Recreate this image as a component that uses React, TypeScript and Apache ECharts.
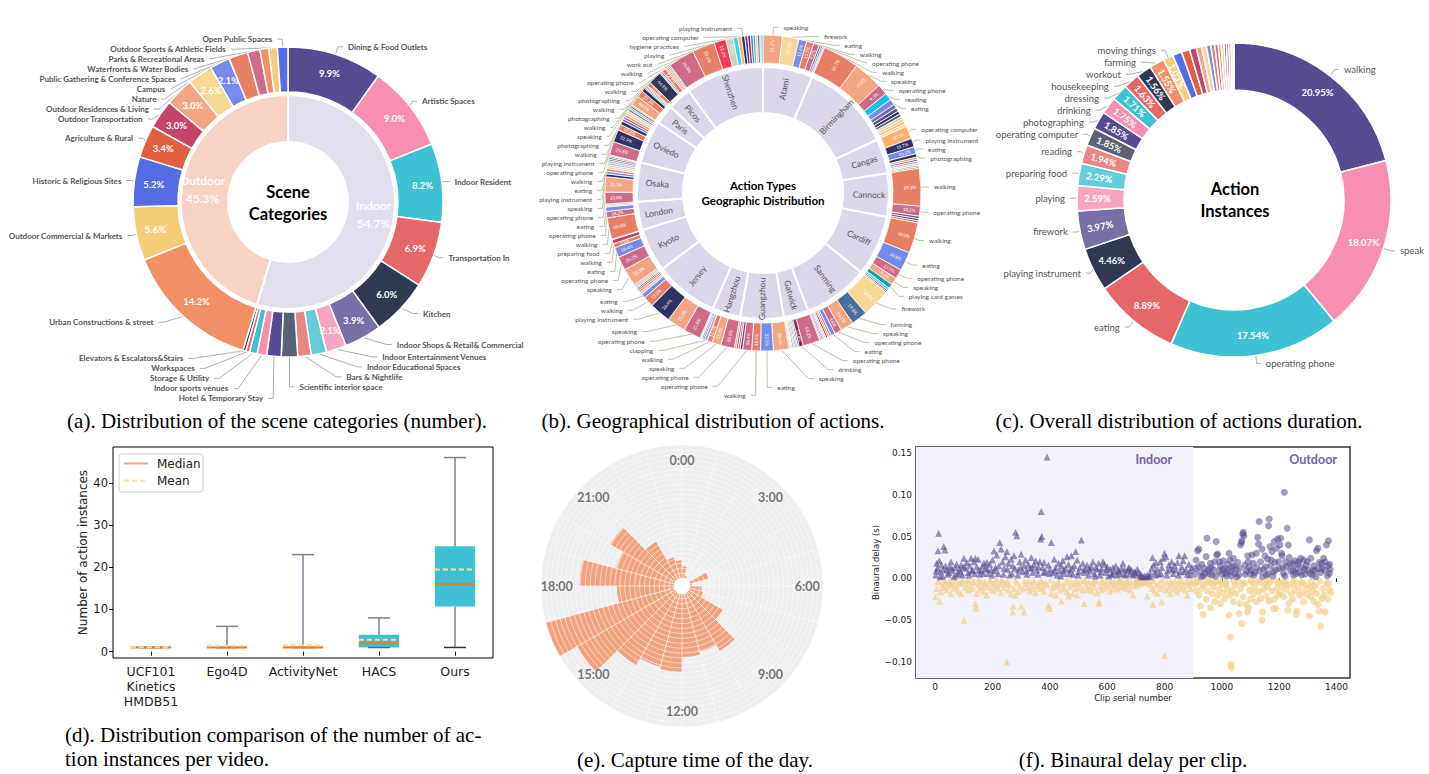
import React, { useEffect, useRef } from 'react';
import * as echarts from 'echarts';

// ---------- (a) scene categories ----------
const sceneGroups = ['Indoor', 'Outdoor'];
const sceneGroupShares = [54.7, 45.3];
const sceneCategories = [
  'Dining & Food Outlets', 'Artistic Spaces', 'Indoor Resident', 'Transportation In', 'Kitchen',
  'Indoor Shops & Retail& Commercial', 'Indoor Entertainment Venues', 'Indoor Educational Spaces',
  'Bars & Nightlife', 'Scientific interior space', 'Hotel & Temporary Stay', 'Indoor sports venues',
  'Storage & Utility', 'Workspaces', 'Elevators & Escalators&Stairs',
  'Urban Constructions & street', 'Outdoor Commercial & Markets', 'Historic & Religious Sites',
  'Agriculture & Rural', 'Outdoor Transportation', 'Outdoor Residences & Living', 'Nature', 'Campus',
  'Public Gathering & Conference Spaces', 'Waterfronts & Water Bodies', 'Parks & Recreational Areas',
  'Outdoor Sports & Athletic Fields', 'Open Public Spaces',
];
const sceneShares = [9.9, 9.0, 8.2, 6.9, 6.0, 3.9, 2.1, 1.6, 1.4, 1.7, 1.5, 1.0, 0.8, 0.4, 0.3,
  14.2, 5.6, 5.2, 3.4, 3.0, 3.0, 2.6, 2.1, 2.0, 1.3, 0.9, 0.9, 1.1];
const sceneColors = ['#574b90', '#f78fb3', '#3dc1d3', '#e66767', '#303952', '#786fa6', '#f8a5c2', '#63cdda',
  '#ea8685', '#596275', '#574b90', '#f78fb3', '#3dc1d3', '#e66767', '#303952',
  '#f19066', '#f5cd79', '#546de5', '#e15f41', '#c44569', '#f3a683', '#f7d794', '#778beb', '#e77f67',
  '#cf6a87', '#f19066', '#f5cd79', '#546de5'];
const sceneGroupColors = ['#e1dfee', '#f8d3c3'];

// ---------- (b) actions per city ----------
const cityNames = ['Atami', 'Birmingham', 'Cangas', 'Cannock', 'Cardiff', 'Sanming', 'Gatwick', 'Guangzhou',
  'Hangzhou', 'Jersey', 'Kyoto', 'London', 'Osaka', 'Oviedo', 'Paris', 'Picos', 'Shenzhen'];
const cityShares = [23, 42, 16, 20, 28, 30, 11.5, 20, 13, 29.5, 20, 13, 18, 20, 9, 11, 36];
const atamiActions = [['speaking', 31.2], ['firework', 26.1], ['eating', 12.8], ['walking', 11.5], ['operating phone', 9.2], ['driving', 3.2], ['writing', 2.5], ['dressing', 2.0], ['cleaning', 1.5]];
const birminghamActions = [['walking', 31.7], ['speaking', 25.8], ['operating phone', 9.3], ['reading', 6.5], ['eating', 5.2], ['dressing', 3.6], ['housekeeping', 3.2], ['photographing', 2.8], ['writing', 2.6], ['playing', 2.4], ['moving things', 2.3], ['operating computer', 2.2], ['firework', 2.4]];
const cangasActions = [['operating computer', 30.3], ['playing instrument', 19.7], ['eating', 16.2], ['photographing', 8.0], ['shopping', 4.8], ['driving', 4.6], ['sitting', 4.6], ['cooking', 4.4], ['exercising', 4.0], ['cleaning', 3.4]];
const cannockActions = [['walking', 69.2], ['operating phone', 18.2], ['writing', 4.6], ['housekeeping', 4.2], ['cleaning', 3.8]];
const cardiffActions = [['walking', 40.2], ['eating', 24.8], ['operating phone', 12.5], ['speaking', 9.6], ['playing card games', 6.0], ['exercising', 3.2], ['writing', 2.1], ['dressing', 1.6]];
const sanmingActions = [['firework', 34.9], ['farming', 19.8], ['speaking', 16.2], ['operating phone', 8.6], ['eating', 5.2], ['walking', 2.6], ['shopping', 2.2], ['playing instrument', 2.1], ['operating computer', 2.0], ['clapping', 1.9], ['preparing food', 1.8], ['driving', 1.5], ['reading', 1.2]];
const gatwickActions = [['operating phone', 54.2], ['drinking', 13.4], ['housekeeping', 4.8], ['exercising', 4.6], ['dressing', 4.4], ['shopping', 4.2], ['writing', 4.0], ['cooking', 3.6], ['clapping', 2.8], ['sitting', 4.0]];
const guangzhouActions = [['speaking', 28.6], ['eating', 23.3], ['walking', 16.4], ['operating phone', 16.4], ['housekeeping', 4.6], ['cleaning', 3.7], ['writing', 3.5], ['sitting', 3.5]];
const hangzhouActions = [['operating phone', 38.5], ['speaking', 25.5], ['walking', 14.5], ['clapping', 8.0], ['dressing', 4.5], ['driving', 4.0], ['cooking', 3.0], ['writing', 2.0]];
const jerseyActions = [['operating phone', 21.8], ['speaking', 23.3], ['playing instrument', 26.4], ['walking', 13.2], ['eating', 5.5], ['cooking', 3.2], ['sitting', 2.6], ['cleaning', 2.2], ['writing', 1.8]];
const kyotoActions = [['cooking', 3.0], ['sitting', 2.6], ['writing', 2.0], ['speaking', 32.3], ['operating phone', 25.3], ['eating', 18.4], ['walking', 7.8], ['preparing food', 7.6], ['reading', 1.0]];
const londonActions = [['walking', 60.8], ['operating phone', 18.2], ['eating', 12.4], ['cooking', 4.6], ['sitting', 4.0]];
const osakaActions = [['operating phone', 23.8], ['speaking', 31.3], ['playing instrument', 6.0], ['eating', 5.5], ['walking', 5.2], ['moving things', 4.2], ['cooking', 4.0], ['exercising', 4.0], ['shopping', 4.0], ['driving', 3.5], ['writing', 3.5], ['dressing', 3.0], ['sitting', 2.0]];
const oviedoActions = [['operating phone', 24.8], ['playing instrument', 22.9], ['walking', 10.8], ['photographing', 7.0], ['driving', 4.6], ['cleaning', 4.4], ['sitting', 4.2], ['cooking', 4.2], ['moving things', 4.0], ['dressing', 3.8], ['exercising', 3.5], ['writing', 3.3], ['shopping', 2.5]];
const parisActions = [['speaking', 40.7], ['walking', 27.3], ['photographing', 15.2], ['writing', 4.5], ['dressing', 4.3], ['housekeeping', 4.2], ['cleaning', 3.8]];
const picosActions = [['walking', 12.5], ['photographing', 44.9], ['exercising', 4.6], ['housekeeping', 4.4], ['walking', 14.2], ['shopping', 4.6], ['cleaning', 4.6], ['sitting', 4.4], ['writing', 4.0], ['dressing', 1.8]];
const shenzhenActions = [['operating phone', 26.8], ['walking', 23.1], ['work out', 12.3], ['playing', 7.5], ['hygiene practices', 4.8], ['operating computer', 3.6], ['playing instrument', 3.4], ['housekeeping', 3.0], ['drinking', 2.8], ['dressing', 2.6], ['reading', 2.4], ['cooking', 2.3], ['writing', 2.2], ['sitting', 1.2], ['exercising', 2.0]];
const cityActions = [atamiActions, birminghamActions, cangasActions, cannockActions, cardiffActions, sanmingActions,
  gatwickActions, guangzhouActions, hangzhouActions, jerseyActions, kyotoActions, londonActions, osakaActions,
  oviedoActions, parisActions, picosActions, shenzhenActions];
const unlabeledActions = ['cooking', 'sitting', 'writing', 'cleaning', 'exercising', 'shopping', 'driving', 'dressing', 'housekeeping', 'moving things'];
const actionColors = {
  walking: '#e77f67', speaking: '#f3a683', 'operating phone': '#cf6a87', eating: '#778beb', firework: '#f7d794',
  'playing instrument': '#2e3266', photographing: '#303952', farming: '#4b6e9c', drinking: '#8e2c4e',
  reading: '#18c1e8', 'operating computer': '#f8b26a', 'playing card games': '#13a3ad', 'work out': '#f53b57',
  playing: '#c8d3bd', 'hygiene practices': '#48d1e6', clapping: '#c89ee6', 'preparing food': '#c44569',
  dressing: '#786fa6', housekeeping: '#574b90', 'moving things': '#f5cd79', cleaning: '#e15f41',
  writing: '#596275', shopping: '#f19066', driving: '#546de5', exercising: '#63cdda', sitting: '#ea8685',
  cooking: '#d1ccc0',
};

// ---------- (c) action instances ----------
const instanceNames = ['walking', 'speak', 'operating phone', 'eating', 'playing instrument', 'firework', 'playing',
  'preparing food', 'reading', 'operating computer', 'photographing', 'drinking', 'dressing', 'housekeeping',
  'workout', 'farming', 'moving things', 'cleaning', 'writing', 'shopping', 'driving', 'exercising', 'sitting',
  'cooking', 'clapping', 'hygiene practices', 'playing card games', 'painting', 'singing', 'dancing', 'knitting', 'fishing'];
const instanceShares = [20.95, 18.07, 17.54, 8.89, 4.46, 3.97, 2.59, 2.29, 1.94, 1.85, 1.85, 1.75, 1.71, 1.63,
  1.56, 1.55, 1.03, 0.95, 0.85, 0.7, 0.55, 0.5, 0.45, 0.4, 0.35, 0.3, 0.3, 0.25, 0.25, 0.22, 0.2, 0.1];
const instanceLabeledCount = 17;
const instanceColors = ['#574b90', '#f78fb3', '#3dc1d3', '#e66767', '#303952', '#786fa6', '#f8a5c2', '#63cdda',
  '#ea8685', '#596275', '#574b90', '#f78fb3', '#3dc1d3', '#e66767', '#303952', '#f19066', '#f5cd79',
  '#546de5', '#e15f41', '#c44569', '#f3a683', '#f7d794', '#778beb', '#e77f67', '#cf6a87', '#f19066',
  '#f5cd79', '#546de5', '#e15f41', '#c44569', '#f3a683', '#f7d794'];

// ---------- (d) boxplot ----------
const boxCategories = ['UCF101\nKinetics\nHMDB51', 'Ego4D', 'ActivityNet', 'HACS', 'Ours'];
const boxMin = [1, 1, 1, 1, 1];
const boxQ1 = [1, 1, 1, 1, 10.7];
const boxMedian = [1, 1, 1, 2, 16];
const boxQ3 = [1, 1, 1, 4, 25];
const boxMax = [1, 6, 23, 8, 46];
const boxMean = [1.05, 1.4, 1.5, 2.8, 19.5];
const boxYTicks = [0, 10, 20, 30, 40];
const boxLegend = ['Median', 'Mean'];

// ---------- (e) capture time ----------
const hourCategories = ['0:00', '1:00', '2:00', '3:00', '4:00', '5:00', '6:00', '7:00', '8:00', '9:00', '10:00', '11:00',
  '12:00', '13:00', '14:00', '15:00', '16:00', '17:00', '18:00', '19:00', '20:00', '21:00', '22:00', '23:00'];
const hourCounts = [12, 3, 0, 0, 20, 2, 12, 14, 40, 68, 61, 64, 79, 77, 85, 115, 135, 58, 96, 61, 76, 44, 22, 18];
const hourTickValues = [0, 3, 6, 9, 12, 15, 18, 21];
const hourTickLabels = ['0:00', '3:00', '6:00', '9:00', '12:00', '15:00', '18:00', '21:00'];

// ---------- (f) binaural delay ----------
const delayXTicks = [0, 200, 400, 600, 800, 1000, 1200, 1400];
const delayYTicks = [-0.1, -0.05, 0, 0.05, 0.1, 0.15];
const indoorEnd = 900;
const indoorAbove = [[2,0.004],[5,0.018],[8,0.012],[10,0.033],[12,0.054],[14,0.021],[18,0.008],[22,0.016],[26,0.003],[30,0.038],[34,0.034],[36,0.015],[40,0.01],[45,0.005],[50,0.014],[55,0.02],[60,0.009],[65,0.002],[70,0.013],[75,0.017],[80,0.006],[85,0.011],[90,0.016],[95,0.004],[100,0.024],[105,0.012],[110,0.019],[115,0.007],[120,0.015],[125,0.024],[130,0.01],[135,0.02],[140,0.024],[145,0.014],[150,0.023],[155,0.005],[160,0.009],[165,0.015],[170,0.018],[175,0.012],[180,0.019],[185,0.006],[190,0.017],[195,0.01],[200,0.022],[205,0.033],[210,0.013],[215,0.028],[220,0.006],[225,0.043],[230,0.035],[235,0.02],[240,0.012],[245,0.026],[250,0.032],[255,0.018],[260,0.004],[265,0.023],[270,0.015],[275,0.027],[280,0.055],[285,0.051],[290,0.01],[295,0.02],[300,0.029],[305,0.008],[310,0.015],[315,0.022],[320,0.005],[325,0.017],[330,0.012],[335,0.025],[340,0.007],[345,0.016],[350,0.021],[355,0.01],[360,0.014],[365,0.02],[368,0.047],[370,0.08],[372,0.05],[375,0.013],[380,0.019],[385,0.008],[390,0.145],[395,0.016],[400,0.011],[405,0.043],[410,0.007],[415,0.023],[420,0.013],[425,0.004],[430,0.018],[435,0.009],[440,0.015],[445,0.021],[450,0.006],[455,0.012],[460,0.026],[465,0.017],[470,0.01],[475,0.027],[480,0.005],[485,0.015],[490,0.032],[495,0.022],[500,0.008],[505,0.013],[510,0.046],[515,0.018],[520,0.007],[525,0.011],[530,0.016],[535,0.004],[540,0.009],[545,0.014],[550,0.02],[555,0.006],[560,0.013],[565,0.011],[570,0.018],[575,0.004],[580,0.012],[585,0.02],[590,0.017],[595,0.007],[600,0.014],[605,0.003],[610,0.011],[615,0.005],[620,0.013],[625,0.008],[630,0.015],[635,0.004],[640,0.01],[645,0.006],[650,0.012],[655,0.018],[660,0.011],[665,0.004],[670,0.009],[675,0.013],[680,0.006],[685,0.01],[690,0.004],[695,0.008],[700,0.005],[705,0.011],[710,0.007],[715,0.003],[720,0.002],[725,0.002],[730,0.003],[735,0.002],[740,0.004],[745,0.003],[750,0.006],[755,0.012],[758,0.025],[762,0.016],[766,0.008],[770,0.019],[775,0.011],[780,0.005],[785,0.02],[790,0.013],[795,0.024],[800,0.03],[805,0.026],[810,0.009],[815,0.016],[820,0.012],[825,0.02],[830,0.006],[835,0.015],[840,0.01],[845,0.019],[850,0.027],[855,0.008],[860,0.014],[865,0.021],[870,0.027],[875,0.011],[880,0.005],[885,0.017],[890,0.009],[895,0.013],
  [3,0.009],[17,0.002],[28,0.011],[47,0.007],[58,0.012],[73,0.004],[88,0.008],[98,0.014],[118,0.004],[128,0.009],[138,0.006],[152,0.01],[168,0.006],[182,0.011],[198,0.004],[208,0.009],[222,0.015],[238,0.005],[252,0.011],[268,0.006],[278,0.012],[288,0.004],[298,0.013],[318,0.009],[338,0.013],[358,0.005],[378,0.007],[398,0.006],[418,0.009],[438,0.003],[448,0.01],[468,0.006],[478,0.012],[498,0.004],[518,0.01],[538,0.012],[558,0.003],[578,0.008],[598,0.011],[618,0.005],[638,0.009],[658,0.005],[678,0.012],[698,0.007],[718,0.005],[748,0.002],[768,0.004],[788,0.006],[808,0.004],[828,0.011],[848,0.004],[868,0.008],[888,0.004]];
const indoorBelow = [[2,-0.022],[6,-0.012],[10,-0.003],[15,-0.027],[20,-0.016],[25,-0.008],[30,-0.011],[35,-0.005],[40,-0.014],[45,-0.009],[50,-0.003],[55,-0.018],[60,-0.007],[65,-0.012],[70,-0.004],[75,-0.01],[80,-0.015],[85,-0.006],[90,-0.018],[95,-0.002],[100,-0.05],[105,-0.011],[110,-0.007],[115,-0.014],[120,-0.003],[125,-0.009],[130,-0.012],[135,-0.005],[140,-0.03],[142,-0.035],[145,-0.018],[150,-0.008],[155,-0.013],[160,-0.004],[165,-0.011],[170,-0.016],[175,-0.007],[180,-0.02],[185,-0.01],[190,-0.003],[195,-0.013],[200,-0.006],[205,-0.015],[210,-0.009],[215,-0.002],[220,-0.012],[225,-0.007],[230,-0.017],[235,-0.004],[240,-0.011],[245,-0.006],[250,-0.1],[255,-0.014],[260,-0.008],[265,-0.019],[270,-0.04],[272,-0.033],[275,-0.012],[280,-0.02],[285,-0.005],[290,-0.016],[295,-0.009],[300,-0.033],[305,-0.013],[310,-0.04],[315,-0.006],[320,-0.011],[325,-0.003],[330,-0.015],[335,-0.008],[340,-0.012],[345,-0.004],[350,-0.017],[355,-0.009],[360,-0.006],[365,-0.012],[370,-0.003],[375,-0.01],[380,-0.015],[385,-0.005],[390,-0.008],[395,-0.033],[400,-0.036],[405,-0.018],[410,-0.011],[415,-0.006],[420,-0.02],[425,-0.009],[430,-0.004],[435,-0.014],[440,-0.027],[445,-0.008],[450,-0.012],[455,-0.005],[460,-0.016],[465,-0.021],[470,-0.01],[475,-0.004],[480,-0.018],[485,-0.007],[490,-0.012],[495,-0.02],[500,-0.006],[505,-0.011],[510,-0.003],[515,-0.014],[520,-0.03],[525,-0.008],[530,-0.013],[535,-0.004],[540,-0.01],[545,-0.015],[550,-0.006],[555,-0.011],[560,-0.003],[565,-0.017],[570,-0.03],[572,-0.028],[575,-0.009],[580,-0.014],[585,-0.005],[590,-0.012],[595,-0.007],[600,-0.003],[605,-0.01],[610,-0.015],[615,-0.006],[620,-0.012],[625,-0.004],[630,-0.008],[635,-0.013],[640,-0.005],[645,-0.011],[650,-0.003],[655,-0.009],[660,-0.006],[665,-0.012],[670,-0.004],[675,-0.008],[680,-0.014],[685,-0.005],[690,-0.02],[695,-0.009],[700,-0.004],[705,-0.007],[710,-0.003],[715,-0.006],[720,-0.002],[725,-0.004],[730,-0.003],[735,-0.005],[740,-0.021],[745,-0.004],[750,-0.007],[755,-0.012],[760,-0.031],[765,-0.015],[770,-0.008],[775,-0.018],[780,-0.006],[785,-0.012],[790,-0.028],[795,-0.009],[800,-0.092],[805,-0.014],[810,-0.005],[815,-0.011],[820,-0.018],[825,-0.007],[830,-0.013],[835,-0.004],[840,-0.01],[845,-0.016],[850,-0.006],[855,-0.012],[860,-0.003],[865,-0.009],[870,-0.014],[875,-0.005],[880,-0.02],[885,-0.008],[890,-0.012],[895,-0.004],
  [12,-0.004],[32,-0.002],[52,-0.006],[72,-0.002],[92,-0.005],[112,-0.002],[132,-0.004],[152,-0.002],[172,-0.005],[192,-0.002],[212,-0.004],[232,-0.002],[252,-0.005],[282,-0.002],[312,-0.003],[342,-0.002],[372,-0.004],[402,-0.002],[432,-0.005],[462,-0.002],[492,-0.003],[522,-0.002],[552,-0.004],[582,-0.002],[612,-0.003],[642,-0.002],[672,-0.003],[702,-0.002],[732,-0.001],[762,-0.003],[792,-0.002],[822,-0.004],[852,-0.002],[882,-0.003]];
const outdoorAbove = [[905,0.005],[910,0.022],[915,0.033],[918,0.014],[920,0.035],[925,0.008],[930,0.017],[935,0.003],[940,0.012],[945,0.026],[948,0.048],[952,0.01],[956,0.006],[960,0.018],[965,0.004],[970,0.011],[975,0.02],[980,0.044],[982,0.028],[985,0.029],[990,0.009],[995,0.015],[1000,0.005],[1005,0.021],[1010,0.012],[1015,0.003],[1020,0.017],[1025,0.03],[1028,0.022],[1030,0.008],[1035,0.014],[1040,0.024],[1045,0.006],[1050,0.011],[1055,0.019],[1060,0.004],[1065,0.04],[1068,0.043],[1070,0.045],[1073,0.053],[1075,0.055],[1077,0.051],[1080,0.016],[1085,0.009],[1090,0.027],[1095,0.013],[1100,0.005],[1105,0.028],[1110,0.018],[1115,0.007],[1120,0.03],[1125,0.049],[1128,0.041],[1130,0.068],[1135,0.02],[1140,0.035],[1145,0.011],[1150,0.027],[1155,0.004],[1160,0.023],[1163,0.063],[1165,0.071],[1168,0.038],[1170,0.015],[1175,0.032],[1180,0.008],[1183,0.044],[1185,0.019],[1190,0.036],[1195,0.047],[1200,0.012],[1203,0.04],[1205,0.048],[1208,0.03],[1210,0.027],[1215,0.006],[1218,0.103],[1222,0.02],[1225,0.014],[1228,0.06],[1232,0.04],[1235,0.025],[1240,0.009],[1245,0.018],[1250,0.004],[1255,0.021],[1260,0.012],[1265,0.017],[1270,0.007],[1275,0.024],[1280,0.013],[1285,0.022],[1290,0.005],[1295,0.016],[1300,0.01],[1305,0.046],[1310,0.024],[1315,0.004],[1320,0.015],[1325,0.009],[1330,0.033],[1335,0.036],[1340,0.019],[1345,0.007],[1350,0.012],[1355,0.024],[1360,0.02],[1365,0.04],[1370,0.015],[1372,0.045],[1375,0.006],[1378,0.011],
  [908,0.012],[928,0.002],[942,0.006],[962,0.013],[978,0.003],[992,0.02],[1002,0.011],[1012,0.006],[1022,0.01],[1032,0.003],[1042,0.015],[1052,0.002],[1062,0.012],[1082,0.005],[1092,0.02],[1102,0.01],[1112,0.004],[1122,0.013],[1132,0.009],[1142,0.002],[1152,0.014],[1162,0.006],[1172,0.022],[1178,0.003],[1188,0.01],[1198,0.02],[1212,0.013],[1220,0.003],[1238,0.017],[1248,0.01],[1258,0.006],[1268,0.02],[1278,0.004],[1288,0.011],[1298,0.02],[1308,0.006],[1318,0.01],[1328,0.002],[1338,0.012],[1348,0.018],[1358,0.01],[1368,0.003],[1376,0.017]];
const outdoorBelow = [[905,-0.007],[910,-0.015],[915,-0.004],[920,-0.02],[925,-0.033],[930,-0.012],[935,-0.043],[940,-0.008],[945,-0.025],[950,-0.015],[955,-0.005],[960,-0.035],[965,-0.018],[970,-0.01],[975,-0.028],[980,-0.004],[985,-0.02],[990,-0.013],[995,-0.03],[1000,-0.007],[1005,-0.017],[1010,-0.024],[1015,-0.005],[1020,-0.012],[1025,-0.044],[1028,-0.02],[1030,-0.07],[1032,-0.103],[1033,-0.107],[1036,-0.015],[1040,-0.028],[1045,-0.008],[1050,-0.018],[1055,-0.004],[1060,-0.042],[1063,-0.03],[1066,-0.012],[1070,-0.054],[1075,-0.022],[1080,-0.006],[1085,-0.031],[1090,-0.04],[1093,-0.035],[1096,-0.014],[1100,-0.025],[1105,-0.005],[1110,-0.019],[1115,-0.011],[1120,-0.028],[1125,-0.003],[1130,-0.016],[1135,-0.024],[1140,-0.05],[1142,-0.04],[1145,-0.013],[1150,-0.006],[1155,-0.021],[1160,-0.01],[1165,-0.027],[1170,-0.004],[1175,-0.015],[1180,-0.036],[1183,-0.025],[1188,-0.036],[1192,-0.012],[1196,-0.02],[1200,-0.005],[1205,-0.017],[1210,-0.009],[1215,-0.022],[1220,-0.003],[1225,-0.013],[1230,-0.038],[1233,-0.03],[1238,-0.008],[1242,-0.018],[1246,-0.025],[1250,-0.006],[1255,-0.014],[1260,-0.043],[1262,-0.039],[1266,-0.01],[1270,-0.02],[1275,-0.005],[1280,-0.016],[1285,-0.028],[1290,-0.008],[1295,-0.019],[1300,-0.012],[1305,-0.045],[1308,-0.022],[1312,-0.004],[1316,-0.015],[1320,-0.027],[1325,-0.009],[1330,-0.018],[1335,-0.031],[1340,-0.039],[1345,-0.057],[1348,-0.024],[1352,-0.012],[1356,-0.02],[1360,-0.04],[1365,-0.006],[1370,-0.025],[1375,-0.014],[1380,-0.017],
  [912,-0.003],[932,-0.006],[952,-0.002],[972,-0.005],[992,-0.003],[1012,-0.007],[1042,-0.003],[1072,-0.006],[1102,-0.002],[1132,-0.005],[1162,-0.002],[1192,-0.004],[1222,-0.007],[1252,-0.002],[1282,-0.005],[1312,-0.009],[1342,-0.003],[1372,-0.006]];

// ---------- titles & captions ----------
const pieTitles = ['Scene\nCategories', 'Action Types\nGeographic Distribution', 'Action\nInstances'];
const captions = [
  '(a). Distribution of the scene categories (number).',
  '(b). Geographical distribution of actions.',
  '(c). Overall distribution of actions duration.',
  '(d). Distribution comparison of the number of ac-',
  'tion instances per video.',
  '(e). Capture time of the day.',
  '(f). Binaural delay per clip.',
];
const regionNames = ['Indoor', 'Outdoor'];

const SANS = 'Lato';
const MPL = 'DejaVu Sans';
const SERIF = 'Liberation Serif';

function buildOption() {
  const ring: any[] = [];
  cityActions.forEach((list: any[], ci) => {
    list.forEach(([name, pct]) => ring.push({ name, pct, value: (cityShares[ci] * pct) / 100 }));
  });

  const boxData = boxCategories.map((_, i) => [i, boxMin[i], boxQ1[i], boxMedian[i], boxQ3[i], boxMax[i], boxMean[i]]);

  const fmtDelay = (v: number) => {
    const s = Math.abs(v).toFixed(2);
    return v < -1e-9 ? '\u2212' + s : s;
  };

  const cA = [288, 202];
  const cB = [763, 193];
  const cC = [1234, 200];
  const cE = [682, 586];

  const caption = (text: string, x: number, y: number, align: string) => ({
    type: 'text', x, y, silent: true,
    style: { text, align, verticalAlign: 'middle', fontFamily: SERIF, fontSize: 21, fill: '#000' },
  });

  return {
    animation: false,
    backgroundColor: '#ffffff',
    textStyle: { fontFamily: SANS },
    grid: [
      { left: 113, top: 447, width: 380, height: 211, show: true, borderColor: '#000', borderWidth: 1, backgroundColor: 'rgba(0,0,0,0)' },
      { left: 916, top: 447, width: 434, height: 231, show: true, borderColor: '#333', borderWidth: 1.5, backgroundColor: 'rgba(0,0,0,0)' },
    ],
    xAxis: [
      {
        gridIndex: 0, type: 'category', data: boxCategories,
        axisLine: { show: false },
        axisTick: { show: true, alignWithLabel: true, length: 4, lineStyle: { color: '#000' } },
        axisLabel: { fontFamily: MPL, fontSize: 12.5, color: '#222', lineHeight: 15, margin: 6, interval: 0 },
        splitLine: { show: false },
      },
      {
        gridIndex: 1, type: 'value', min: -67, max: 1447,
        axisLine: { show: false },
        axisTick: { show: true, customValues: delayXTicks, length: 3.5, lineStyle: { color: '#000' } },
        axisLabel: { customValues: delayXTicks, formatter: (v: number) => `${v}`, fontFamily: MPL, fontSize: 9, color: '#222', margin: 4 },
        splitLine: { show: false },
        name: 'Clip serial number', nameLocation: 'middle', nameGap: 15,
        nameTextStyle: { fontFamily: MPL, fontSize: 8.5, color: '#222' },
      },
    ],
    yAxis: [
      {
        gridIndex: 0, type: 'value', min: -1.5, max: 48.5,
        axisLine: { show: false },
        axisTick: { show: true, customValues: boxYTicks, length: 4, lineStyle: { color: '#000' } },
        axisLabel: { customValues: boxYTicks, fontFamily: MPL, fontSize: 11.5, color: '#222', margin: 5 },
        splitLine: { show: false },
        name: 'Number of action instances', nameLocation: 'middle', nameGap: 24,
        nameTextStyle: { fontFamily: MPL, fontSize: 12, color: '#222' },
      },
      {
        gridIndex: 1, type: 'value', min: -0.119, max: 0.157,
        axisLine: { show: false },
        axisTick: { show: true, customValues: delayYTicks, length: 3.5, lineStyle: { color: '#000' } },
        axisLabel: { customValues: delayYTicks, formatter: fmtDelay, fontFamily: MPL, fontSize: 9, color: '#222', margin: 4 },
        splitLine: { show: false },
        name: 'Binaural delay (s)', nameLocation: 'middle', nameGap: 34,
        nameTextStyle: { fontFamily: MPL, fontSize: 8.5, color: '#222' },
      },
    ],
    polar: [
      { center: cE, radius: [8, 141] },
      { center: cE, radius: [8, 141] },
    ],
    angleAxis: [
      {
        polarIndex: 0, type: 'category', data: hourCategories, startAngle: 90, clockwise: true, boundaryGap: true,
        axisLine: { show: false }, axisTick: { show: false }, axisLabel: { show: false },
        splitLine: { show: false }, splitArea: { show: true, areaStyle: { color: ['#efefef'] } }, z: 0,
      },
      {
        polarIndex: 1, type: 'value', min: 0, max: 24, interval: 1, startAngle: 90, clockwise: true,
        axisLine: { show: false }, axisTick: { show: false }, axisLabel: { show: false },
        splitLine: { show: true, lineStyle: { color: 'rgba(255,255,255,0.75)', width: 0.8 } }, z: 5,
      },
    ],
    radiusAxis: [
      { polarIndex: 0, type: 'value', min: 0, max: 135, axisLine: { show: false }, axisTick: { show: false }, axisLabel: { show: false }, splitLine: { show: false } },
      {
        polarIndex: 1, type: 'value', min: 0, max: 135, interval: 5,
        axisLine: { show: false }, axisTick: { show: false }, axisLabel: { show: false },
        splitLine: { show: true, lineStyle: { color: 'rgba(255,255,255,0.8)', width: 0.7 } }, z: 5,
      },
    ],
    series: [
      // ----- (a) -----
      {
        type: 'pie', center: cA, radius: [60, 107], silent: true, clockwise: true, startAngle: 90,
        data: sceneGroups.map((n, i) => ({ name: n, value: sceneGroupShares[i], itemStyle: { color: sceneGroupColors[i] } })),
        itemStyle: { borderColor: '#fff', borderWidth: 2 },
        label: { show: true, position: 'inside', formatter: (p: any) => `${p.name}\n${p.value}%`, color: '#fff', fontFamily: SANS, fontSize: 12, fontWeight: 600, lineHeight: 18 },
        labelLine: { show: false },
      },
      {
        type: 'pie', center: cA, radius: [110, 155], silent: true, startAngle: 90,
        data: sceneCategories.map((n, i) => ({ name: n, value: sceneShares[i], itemStyle: { color: sceneColors[i] }, label: { show: sceneShares[i] >= 2.1 } })),
        itemStyle: { borderColor: '#fff', borderWidth: 1.5 },
        label: { position: 'inside', formatter: (p: any) => `${p.value.toFixed(1)}%`, color: '#fff', fontFamily: SANS, fontSize: 9.5, fontWeight: 'bold' },
        labelLine: { show: false },
      },
      {
        type: 'pie', center: cA, radius: [110, 155], silent: true, startAngle: 90,
        data: sceneCategories.map((n, i) => ({ name: n, value: sceneShares[i] })),
        itemStyle: { color: 'rgba(0,0,0,0)', borderWidth: 0 },
        label: { show: true, position: 'outside', formatter: '{b}', overflow: 'none', color: '#555', fontFamily: SANS, fontSize: 8, fontWeight: 'bold' },
        labelLine: { show: true, length: 8, length2: 5, lineStyle: { color: '#999', width: 0.8 } },
      },
      // ----- (b) -----
      {
        type: 'pie', center: cB, radius: [80, 126], silent: true, startAngle: 90,
        data: cityNames.map((n, i) => ({ name: n, value: cityShares[i] })),
        itemStyle: { color: '#dcd6ea', borderColor: '#fff', borderWidth: 2 },
        label: { show: true, position: 'inside', rotate: 'radial', formatter: '{b}', color: '#555', fontFamily: SANS, fontSize: 8.5 },
        labelLine: { show: false },
      },
      {
        type: 'pie', center: cB, radius: [130, 158], silent: true, startAngle: 90,
        data: ring.map((d) => ({
          name: d.name, value: d.value, itemStyle: { color: (actionColors as any)[d.name] },
          label: { show: d.pct >= 7, formatter: `${d.pct.toFixed(1)}%` },
        })),
        itemStyle: { borderColor: '#fff', borderWidth: 0.8 },
        label: { position: 'inside', rotate: 'radial', color: '#fff', fontFamily: SANS, fontSize: 4.5 },
        labelLine: { show: false },
      },
      {
        type: 'pie', center: cB, radius: [130, 158], silent: true, startAngle: 90,
        data: ring.map((d) => {
          const show = d.pct >= 3 && !unlabeledActions.includes(d.name);
          return { name: d.name, value: d.value, label: { show }, labelLine: { show } };
        }),
        itemStyle: { color: 'rgba(0,0,0,0)', borderWidth: 0 },
        label: { position: 'outside', formatter: '{b}', overflow: 'none', color: '#555', fontFamily: SANS, fontSize: 6.5 },
        labelLine: { length: 8, length2: 5, lineStyle: { color: '#a7b58f', width: 0.8 } },
      },
      // ----- (c) -----
      {
        type: 'pie', center: cC, radius: [110, 157], silent: true, startAngle: 90,
        data: instanceNames.map((n, i) => ({
          name: n, value: instanceShares[i], itemStyle: { color: instanceColors[i] },
          label: { show: i < instanceLabeledCount, rotate: instanceShares[i] < 4.2 ? 'radial' : 0 },
        })),
        itemStyle: { borderColor: '#fff', borderWidth: 1.5 },
        label: { position: 'inside', formatter: (p: any) => `${p.value.toFixed(2)}%`, color: '#fff', fontFamily: SANS, fontSize: 9.5, fontWeight: 'bold' },
        labelLine: { show: false },
      },
      {
        type: 'pie', center: cC, radius: [110, 157], silent: true, startAngle: 90,
        data: instanceNames.map((n, i) => ({
          name: n, value: instanceShares[i],
          label: { show: i < instanceLabeledCount }, labelLine: { show: i < instanceLabeledCount },
        })),
        itemStyle: { color: 'rgba(0,0,0,0)', borderWidth: 0 },
        label: { position: 'outside', formatter: '{b}', overflow: 'none', color: '#555', fontFamily: SANS, fontSize: 9.5 },
        labelLine: { length: 8, length2: 4, lineStyle: { color: '#999', width: 0.8 } },
      },
      // ----- (d) -----
      {
        type: 'custom', xAxisIndex: 0, yAxisIndex: 0, silent: true,
        data: boxData,
        encode: { x: 0, y: [1, 2, 3, 4, 5, 6] },
        renderItem: (params: any, api: any) => {
          const i = api.value(0);
          const band = api.size([1, 0])[0];
          const bw = band * 0.53;
          const cw = band * 0.29;
          const p = (v: number) => api.coord([i, v]);
          const [cx, yMin] = p(api.value(1));
          const yQ1 = p(api.value(2))[1];
          const yMed = p(api.value(3))[1];
          const yQ3 = p(api.value(4))[1];
          const yMax = p(api.value(5))[1];
          const yMean = p(api.value(6))[1];
          const wStyle = { stroke: '#7d7f95', lineWidth: 1.5 };
          return {
            type: 'group',
            children: [
              { type: 'line', shape: { x1: cx, y1: yQ3, x2: cx, y2: yMax }, style: wStyle },
              { type: 'line', shape: { x1: cx, y1: yQ1, x2: cx, y2: yMin }, style: wStyle },
              { type: 'line', shape: { x1: cx - cw / 2, y1: yMax, x2: cx + cw / 2, y2: yMax }, style: wStyle },
              { type: 'line', shape: { x1: cx - cw / 2, y1: yMin, x2: cx + cw / 2, y2: yMin }, style: { stroke: '#333', lineWidth: 1.5 } },
              { type: 'rect', shape: { x: cx - bw / 2, y: yQ3, width: bw, height: Math.max(yQ1 - yQ3, 0) }, style: { fill: '#3dc1d3' } },
              { type: 'line', shape: { x1: cx - bw / 2, y1: yMed, x2: cx + bw / 2, y2: yMed }, style: { stroke: '#f47a20', lineWidth: 2.2 } },
              { type: 'line', shape: { x1: cx - bw / 2, y1: yMean, x2: cx + bw / 2, y2: yMean }, style: { stroke: '#f9dc9e', lineWidth: 2, lineDash: [5, 3] } },
            ],
          };
        },
      },
      // ----- (e) -----
      {
        type: 'bar', coordinateSystem: 'polar', polarIndex: 0, data: hourCounts, barCategoryGap: '0%', silent: true,
        itemStyle: { color: '#f2a27e' }, z: 2,
      },
      {
        type: 'scatter', coordinateSystem: 'polar', polarIndex: 1, silent: true, z: 12,
        symbolSize: 1, itemStyle: { color: 'rgba(0,0,0,0)' },
        data: hourTickValues.map((h, i) => ({ value: [119, h], label: { formatter: hourTickLabels[i] } })),
        label: { show: true, position: 'inside', fontFamily: SANS, fontWeight: 'bold', fontSize: 12.5, color: '#555' },
      },
      // ----- (f) -----
      {
        type: 'scatter', xAxisIndex: 1, yAxisIndex: 1, silent: true, data: indoorBelow,
        symbol: 'triangle', symbolSize: 7, itemStyle: { color: '#f4d08c', opacity: 0.7 },
        markArea: {
          silent: true,
          data: [
            [{ xAxis: -67, itemStyle: { color: '#f2f2fc' }, label: { show: true, formatter: regionNames[0], position: 'insideTopRight', offset: [-16, 1] } }, { xAxis: indoorEnd }],
            [{ xAxis: indoorEnd, itemStyle: { color: 'rgba(0,0,0,0)' }, label: { show: true, formatter: regionNames[1], position: 'insideTopRight', offset: [-8, 1] } }, { xAxis: 1447 }],
          ],
          label: { color: '#7163a6', fontFamily: SANS, fontWeight: 'bold', fontSize: 12.5 },
        },
      },
      {
        type: 'scatter', xAxisIndex: 1, yAxisIndex: 1, silent: true, data: outdoorBelow,
        symbol: 'circle', symbolSize: 7, itemStyle: { color: '#f4d08c', opacity: 0.7 },
      },
      {
        type: 'scatter', xAxisIndex: 1, yAxisIndex: 1, silent: true, data: indoorAbove,
        symbol: 'triangle', symbolSize: 7, itemStyle: { color: '#574b90', opacity: 0.6 },
      },
      {
        type: 'scatter', xAxisIndex: 1, yAxisIndex: 1, silent: true, data: outdoorAbove,
        symbol: 'circle', symbolSize: 7, itemStyle: { color: '#574b90', opacity: 0.55 },
      },
    ],
    graphic: [
      { type: 'text', x: cA[0], y: cA[1] + 1, silent: true, style: { text: pieTitles[0], align: 'center', verticalAlign: 'middle', fontFamily: SANS, fontWeight: 'bold', fontSize: 16.5, lineHeight: 22, fill: '#000' } },
      { type: 'text', x: cB[0], y: cB[1], silent: true, style: { text: pieTitles[1], align: 'center', verticalAlign: 'middle', fontFamily: SANS, fontWeight: 'bold', fontSize: 11.5, lineHeight: 15, fill: '#000' } },
      { type: 'text', x: cC[0] + 1, y: cC[1], silent: true, style: { text: pieTitles[2], align: 'center', verticalAlign: 'middle', fontFamily: SANS, fontWeight: 'bold', fontSize: 16.5, lineHeight: 22, fill: '#000' } },
      {
        type: 'group', x: 119, y: 454, silent: true,
        children: [
          { type: 'rect', shape: { x: 0, y: 0, width: 84, height: 38, r: 3 }, style: { fill: 'rgba(255,255,255,0.85)', stroke: '#ccc', lineWidth: 1 } },
          { type: 'line', shape: { x1: 5, y1: 9.5, x2: 29, y2: 9.5 }, style: { stroke: '#f4a47c', lineWidth: 2 } },
          { type: 'line', shape: { x1: 5, y1: 26.5, x2: 29, y2: 26.5 }, style: { stroke: '#fbe0a8', lineWidth: 2, lineDash: [5, 3] } },
          { type: 'text', x: 38, y: 9.5, style: { text: boxLegend[0], verticalAlign: 'middle', fontFamily: MPL, fontSize: 12, fill: '#222' } },
          { type: 'text', x: 38, y: 26.5, style: { text: boxLegend[1], verticalAlign: 'middle', fontFamily: MPL, fontSize: 12, fill: '#222' } },
        ],
      },
      caption(captions[0], 277, 421, 'center'),
      caption(captions[1], 713, 421, 'center'),
      caption(captions[2], 1179, 421, 'center'),
      caption(captions[3], 65, 735, 'left'),
      caption(captions[4], 65, 759, 'left'),
      caption(captions[5], 695, 760, 'center'),
      caption(captions[6], 1133, 760, 'center'),
    ],
  };
}

export default function App() {
  const ref = useRef<HTMLDivElement>(null);
  useEffect(() => {
    if (!ref.current) return;
    const chart = echarts.init(ref.current, null, { renderer: 'svg' });
    chart.setOption(buildOption() as any);
    return () => chart.dispose();
  }, []);
  return (
    <div
      ref={ref}
      style={{ position: 'fixed', left: 0, top: 0, width: 1429, height: 774, background: '#ffffff' }}
    />
  );
}
